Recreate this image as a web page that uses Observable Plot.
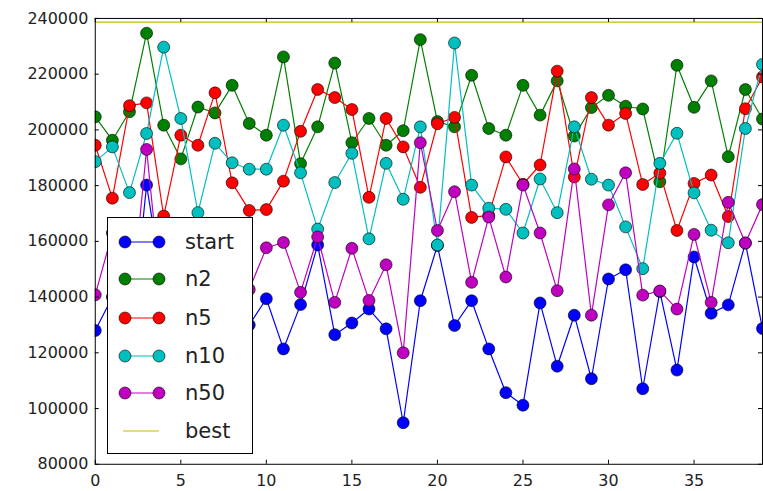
<!DOCTYPE html>
<html><head><meta charset="utf-8">
<script src="https://cdn.jsdelivr.net/npm/d3@7"></script>
<script src="https://cdn.jsdelivr.net/npm/@observablehq/plot@0.6"></script>
<style>
html,body{margin:0;padding:0;background:#fff;}
#wrap{position:relative;width:763px;height:491px;overflow:hidden;}
#legend{position:absolute;left:107px;top:217px;width:144px;height:235px;border:1px solid #000;background:#fff;font-family:"DejaVu Sans",sans-serif;font-size:21px;color:#222;}
.row{position:absolute;left:0;height:24px;display:flex;align-items:center;}
.row svg{margin-left:10px;}
.row span{position:absolute;left:77px;white-space:nowrap;line-height:24px;}
</style></head><body>
<div id="wrap"><div id="chart"></div><div id="legend"></div></div>
<script>
const seriesNames = ["start", "n2", "n5", "n10", "n50"];
const seriesColors = ["#0000ff", "#008000", "#ff0000", "#00bfbf", "#bf00bf"];
const bestColor = "#bfbf00";
const bestValue = 238700;
const xTicks = [0, 5, 10, 15, 20, 25, 30, 35];
const yTicks = [80000, 100000, 120000, 140000, 160000, 180000, 200000, 220000, 240000];

const start = [128000,140000,120000,180200,142000,125000,118000,135000,122000,130000,
  139400,121400,137300,158700,126500,130700,135700,128600,94900,138700,
  158500,129800,138700,121400,105700,101200,137900,115200,133500,110700,
  146500,149800,107100,142000,113800,154400,134200,137200,159400,128700];
const n2 = [204700,196300,206500,234700,201700,189600,208200,206100,216000,202300,
  198100,226200,187900,201100,224000,195400,204100,194500,199700,232400,
  203000,201100,219600,200500,198100,216000,205300,217600,197800,208000,
  212400,208500,207500,181400,223200,208100,217600,190400,214500,203900];
const n5 = [194500,175500,208700,209700,169100,198100,194500,213300,181000,171100,
  171400,181600,199500,214500,211600,207300,175800,204100,193900,179400,
  202200,204500,168600,169300,190300,180500,187400,221100,183100,211600,
  201700,205900,180400,184500,163900,180800,183800,168900,207600,219000];
const n10 = [188600,193900,177500,198700,229700,204100,170300,195200,188200,185900,
  185900,201700,184600,164400,181100,191600,160900,188000,175100,201100,
  158700,231200,180200,171900,171500,163000,182400,170300,201100,182300,
  180200,165200,150200,188000,198800,177400,164000,159500,200500,223500];
const n50 = [140800,163000,130000,193000,132000,148000,140000,155000,145000,142700,
  157700,159600,141700,161600,138100,157500,138800,151600,120000,195400,
  163900,177800,145300,168700,147200,180200,163000,142300,186000,133500,
  173100,184600,140700,142200,135700,162500,138100,174000,159400,173200];

const seriesValues = [start, n2, n5, n10, n50];
const rows = seriesValues.map((vals, k) => vals.map((v, i) => ({i, v, s: seriesNames[k]})));

const marks = [];
rows.forEach((data, k) => {
  marks.push(Plot.line(data, {x: "i", y: "v", stroke: seriesColors[k], strokeWidth: 1.2, clip: true}));
  marks.push(Plot.dot(data, {x: "i", y: "v", r: 6, fill: seriesColors[k], stroke: "#000", strokeWidth: 0.6, clip: true}));
});
marks.push(Plot.ruleY([bestValue], {stroke: bestColor, strokeWidth: 1.2}));
marks.push(Plot.frame({stroke: "#000", strokeWidth: 1}));
marks.push(Plot.tickX(xTicks, {x: d => d, insetTop: 443, stroke: "#000"}));
marks.push(Plot.tickX(xTicks, {x: d => d, insetBottom: 443, stroke: "#000"}));
marks.push(Plot.tickY(yTicks, {y: d => d, insetRight: 665, stroke: "#000"}));
marks.push(Plot.tickY(yTicks, {y: d => d, insetLeft: 665, stroke: "#000"}));
marks.push(Plot.axisX({ticks: xTicks, tickSize: 0, tickPadding: 10, tickFormat: d => String(d), label: null}));
marks.push(Plot.axisY({ticks: yTicks, tickSize: 0, tickPadding: 7, tickFormat: d => String(d), label: null}));

const chart = Plot.plot({
  width: 765, height: 491,
  marginLeft: 95, marginRight: 1, marginTop: 18, marginBottom: 26,
  x: {domain: [0, 39]},
  y: {domain: [80000, 240000]},
  style: {fontFamily: "DejaVu Sans, sans-serif", fontSize: "16px", background: "#fff", color: "#222"},
  marks
});
document.getElementById("chart").appendChild(chart);

// legend
const legend = document.getElementById("legend");
const rowCenters = [23.5, 61.3, 99.7, 138, 175.3, 213];
const entries = seriesNames.map((n, k) => ({name: n, color: seriesColors[k], marker: true}))
  .concat([{name: "best", color: bestColor, marker: false}]);
entries.forEach((e, k) => {
  const row = document.createElement("div");
  row.className = "row";
  row.style.top = (rowCenters[k] - 12) + "px";
  row.style.width = "144px";
  const sw = e.marker
    ? `<svg width="50" height="24"><line x1="7" y1="12" x2="41" y2="12" stroke="${e.color}" stroke-width="1.2"/><circle cx="7" cy="12" r="6" fill="${e.color}" stroke="#000" stroke-width="0.6"/><circle cx="41" cy="12" r="6" fill="${e.color}" stroke="#000" stroke-width="0.6"/></svg>`
    : `<svg width="50" height="24"><line x1="5" y1="12" x2="41" y2="12" stroke="${e.color}" stroke-width="1.2"/></svg>`;
  row.innerHTML = sw + `<span>${e.name}</span>`;
  legend.appendChild(row);
});
</script>
</body></html>
